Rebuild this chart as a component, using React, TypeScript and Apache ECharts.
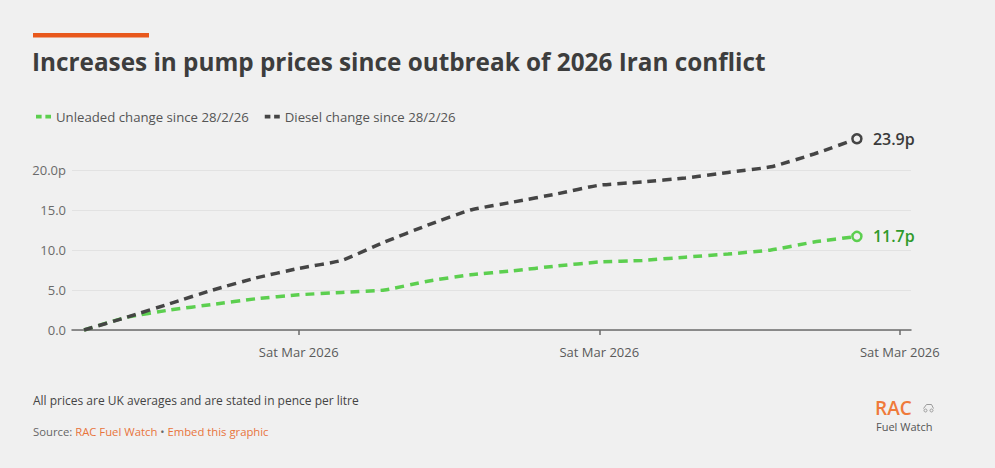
import React, { useEffect, useRef } from "react";
import * as echarts from "echarts";

// Daily change in average UK pump prices (pence per litre) since 28/2/26
const days = [
  "2026-03-02", "2026-03-03", "2026-03-04", "2026-03-05", "2026-03-06",
  "2026-03-07", "2026-03-08", "2026-03-09", "2026-03-10", "2026-03-11",
  "2026-03-12", "2026-03-13", "2026-03-14", "2026-03-15", "2026-03-16",
  "2026-03-17", "2026-03-18", "2026-03-19", "2026-03-20",
];
const unleaded = [
  0, 1.6, 2.5, 3.2, 3.9, 4.4, 4.7, 5.0, 6.1, 6.9,
  7.4, 8.0, 8.5, 8.7, 9.1, 9.5, 10.0, 11.0, 11.7,
];
const diesel = [
  0, 1.6, 3.3, 5.0, 6.5, 7.7, 8.7, 11.0, 13.1, 15.0,
  16.0, 17.0, 18.1, 18.5, 19.0, 19.7, 20.4, 22.0, 23.9,
];
const tickDates = ["2026-03-07", "2026-03-14", "2026-03-21"];
const yTicks = [0, 5, 10, 15, 20];

const UNLEADED_NAME = "Unleaded change since 28/2/26";
const DIESEL_NAME = "Diesel change since 28/2/26";

const BG = "#f0f0f0";
const GREEN = "#5ccf4f";
const GREEN_LABEL = "#2f9a2a";
const DARK = "#454545";
const ORANGE = "#e8581c";
const FONT = "Open Sans";
const DAY = 86400000;

const WEEKDAYS = ["Sun", "Mon", "Tue", "Wed", "Thu", "Fri", "Sat"];
const MONTHS = ["Jan", "Feb", "Mar", "Apr", "May", "Jun", "Jul", "Aug", "Sep", "Oct", "Nov", "Dec"];

const toTime = (d: string) => Date.parse(d + "T00:00:00Z");
const fmtDate = (v: number) => {
  const d = new Date(v);
  return `${WEEKDAYS[d.getUTCDay()]} ${MONTHS[d.getUTCMonth()]} ${d.getUTCFullYear()}`;
};

function lineSeries(name: string, values: number[], color: string, labelColor: string) {
  const last = values.length - 1;
  return {
    type: "line",
    name,
    data: days.map((d, i) => [toTime(d), values[i]]),
    clip: false,
    smooth: 0.15,
    showSymbol: true,
    showAllSymbol: true,
    symbol: "circle",
    symbolSize: (_v: any, p: any) => (p.dataIndex === last ? 9 : 0),
    itemStyle: { color: BG, borderColor: color, borderWidth: 2.5 },
    lineStyle: { color, width: 3.5, type: [9, 6], cap: "butt" },
    emphasis: { disabled: true },
    endLabel: {
      show: true,
      distance: 16,
      formatter: (p: any) => p.value[1].toFixed(1) + "p",
      color: labelColor,
      fontFamily: FONT,
      fontSize: 16,
      fontWeight: 600,
    },
  };
}

export default function App() {
  const ref = useRef<HTMLDivElement>(null);

  useEffect(() => {
    if (!ref.current) return;
    const chart = echarts.init(ref.current, null, { renderer: "svg" });
    const first = toTime(days[0]);
    const lastT = toTime(days[days.length - 1]);
    const ticks = tickDates.map(toTime);

    chart.setOption({
      animation: false,
      backgroundColor: BG,
      textStyle: { fontFamily: FONT },
      grid: { left: 72, right: 84, top: 170, bottom: 138 },
      legend: {
        left: 31,
        top: 105,
        icon: "path://M0,0H6V4H0Z M10,0H16V4H10Z",
        itemWidth: 15,
        itemHeight: 4,
        itemGap: 16,
        textStyle: { color: "#555", fontSize: 13.2, fontFamily: FONT },
        data: [
          { name: UNLEADED_NAME, itemStyle: { color: GREEN, borderWidth: 0 } },
          { name: DIESEL_NAME, itemStyle: { color: DARK, borderWidth: 0 } },
        ],
      },
      xAxis: {
        type: "value",
        min: first - 0.28 * DAY,
        max: lastT + 1.26 * DAY,
        axisLine: { show: true, lineStyle: { color: "#6b6b6b", width: 1.5 } },
        axisTick: { show: true, customValues: ticks, length: 5, lineStyle: { color: "#6b6b6b", width: 1.5 } },
        axisLabel: {
          customValues: ticks,
          formatter: (v: number) => fmtDate(v),
          color: "#5a5a5a",
          fontSize: 13,
          margin: 15,
        },
        splitLine: { show: false },
      },
      yAxis: {
        type: "value",
        min: 0,
        max: 20,
        interval: 5,
        axisLine: { show: false },
        axisTick: { show: false },
        axisLabel: {
          customValues: yTicks,
          formatter: (v: number) => (v === 20 ? v.toFixed(1) + "p" : v.toFixed(1)),
          color: "#6a6a6a",
          fontSize: 13,
          margin: 6,
        },
        splitLine: { lineStyle: { color: "#e2e2e2", width: 1 } },
      },
      series: [
        lineSeries(UNLEADED_NAME, unleaded, GREEN, GREEN_LABEL),
        lineSeries(DIESEL_NAME, diesel, DARK, "#3a3a3a"),
      ],
      graphic: [
        { type: "rect", left: 33, top: 33, shape: { width: 116, height: 4.5 }, style: { fill: ORANGE } },
        {
          type: "text",
          left: 32,
          top: 49,
          style: {
            text: "Increases in pump prices since outbreak of 2026 Iran conflict",
            fill: "#3d3d3d",
            font: `bold 24.3px "${FONT}"`,
          },
        },
        {
          type: "text",
          left: 33,
          top: 394,
          style: {
            text: "All prices are UK averages and are stated in pence per litre",
            fill: "#444",
            font: `12px "${FONT}"`,
          },
        },
        {
          type: "text",
          left: 33,
          top: 426,
          style: {
            text: "{g|Source: }{o|RAC Fuel Watch}{g| • }{o|Embed this graphic}",
            rich: {
              g: { fill: "#666", font: `11.3px "${FONT}"` },
              o: { fill: "#e8743c", font: `11.3px "${FONT}"` },
            },
          },
        },
        {
          type: "text",
          left: 875,
          top: 398,
          style: { text: "RAC", fill: "#ef7a3a", font: `600 19px "${FONT}"`, lineHeight: 19 },
        },
        {
          type: "group",
          left: 921,
          top: 402,
          children: [
            { type: "polyline", shape: { points: [[0, 6], [3, 2], [8, 2], [10, 6]] }, style: { stroke: "#9a9a9a", lineWidth: 1, fill: "none" } },
            { type: "circle", shape: { cx: 2, cy: 8, r: 1.5 }, style: { stroke: "#9a9a9a", lineWidth: 1, fill: "none" } },
            { type: "circle", shape: { cx: 8, cy: 8, r: 1.5 }, style: { stroke: "#9a9a9a", lineWidth: 1, fill: "none" } },
          ],
        },
        {
          type: "text",
          left: 876,
          top: 420,
          style: { text: "Fuel Watch", fill: "#555", font: `11px "${FONT}"`, lineHeight: 12 },
        },
      ],
    });

    return () => chart.dispose();
  }, []);

  return <div ref={ref} style={{ width: 995, height: 468, position: "absolute", left: 0, top: 0 }} />;
}
